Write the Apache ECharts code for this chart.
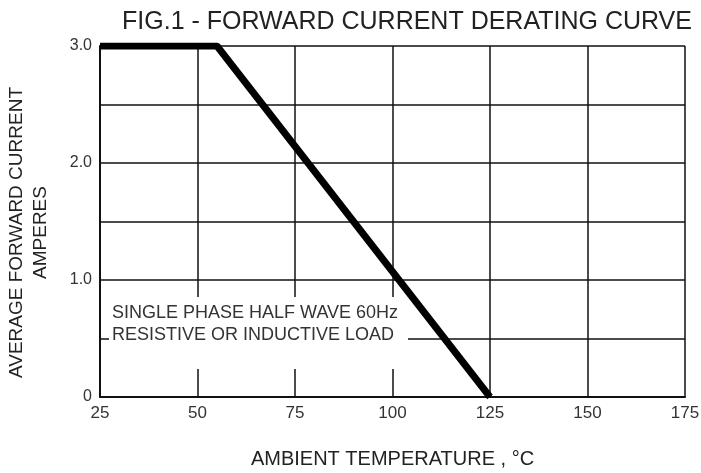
<!DOCTYPE html>
<html>
<head>
<meta charset="utf-8">
<script src="https://cdn.jsdelivr.net/npm/echarts@6/dist/echarts.min.js"></script>
<style>
html, body { margin: 0; padding: 0; background: #fff; }
#chart { width: 701px; height: 473px; }
</style>
</head>
<body>
<div id="chart"></div>
<script>
'use strict';

/** 正向电流降额曲线 */
var temperature = [25, 55, 125];
var current = [3.0, 3.0, 0];
var xTicks = [25, 50, 75, 100, 125, 150, 175];
var yLabels = { 0: '0', 1: '1.0', 2: '2.0', 3: '3.0' };

var chart = echarts.init(document.getElementById('chart'));
var font = 'Liberation Sans, Arial, sans-serif';

var option = {
    backgroundColor: '#fff',
    animation: false,
    title: {
        text: 'FIG.1 - FORWARD CURRENT DERATING CURVE',
        left: 402,
        top: 5,
        textAlign: 'center',
        textStyle: { fontFamily: font, fontSize: 25, fontWeight: 'normal', color: '#222' }
    },
    grid: { left: 100, right: 16, top: 46, bottom: 76, outerBoundsMode: 'none', containLabel: false },
    xAxis: {
        type: 'value',
        min: xTicks[0],
        max: xTicks[xTicks.length - 1],
        interval: 25,
        name: 'AMBIENT TEMPERATURE , \u00b0C',
        nameLocation: 'middle',
        nameGap: 52,
        nameTextStyle: { fontFamily: font, fontSize: 20, color: '#222' },
        axisLine: { show: true, lineStyle: { color: '#111', width: 2 } },
        axisTick: { show: false },
        axisLabel: { fontFamily: font, fontSize: 17, color: '#333', margin: 8 },
        splitLine: { show: true, lineStyle: { color: '#111', width: 1.5 } }
    },
    yAxis: {
        type: 'value',
        min: 0,
        max: 3,
        interval: 0.5,
        name: 'AVERAGE FORWARD CURRENT\nAMPERES',
        nameLocation: 'middle',
        nameGap: 47,
        nameTextStyle: { fontFamily: font, fontSize: 19, color: '#222', lineHeight: 24, padding: [0, 22, 0, 0] },
        axisLine: { show: true, lineStyle: { color: '#111', width: 2 } },
        axisTick: { show: false },
        axisLabel: {
            fontFamily: font, fontSize: 16, color: '#333', margin: 8,
            formatter: function (v) { return yLabels[v] !== undefined ? yLabels[v] : ''; }
        },
        splitLine: { show: true, lineStyle: { color: '#111', width: 1.5 } }
    },
    graphic: [{
        type: 'rect',
        z: 10,
        shape: { x: 109, y: 297, width: 299, height: 72 },
        style: { fill: '#fff' }
    }, {
        type: 'text',
        z: 11,
        left: 112,
        top: 302,
        style: {
            text: 'SINGLE PHASE HALF WAVE 60Hz\nRESISTIVE OR INDUCTIVE LOAD',
            font: '18px ' + font,
            lineHeight: 22,
            fill: '#333'
        }
    }],
    series: [{
        type: 'line',
        data: temperature.map(function (t, i) { return [t, current[i]]; }),
        symbol: 'none',
        z: 20,
        lineStyle: { color: '#000', width: 7 }
    }]
};
chart.setOption(option);
</script>
</body>
</html>
